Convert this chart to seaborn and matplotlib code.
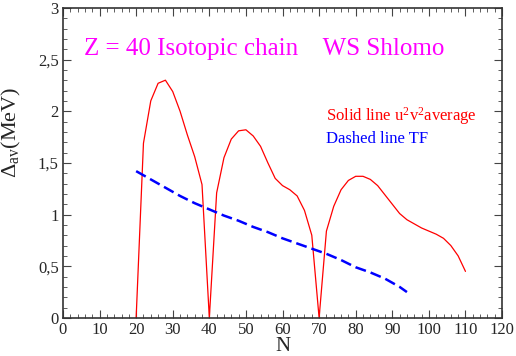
import numpy as np
import pandas as pd
import seaborn as sns
import matplotlib.pyplot as plt
from matplotlib.ticker import MultipleLocator, FuncFormatter

# solid line: u2v2 average
n_red = [20, 22, 24, 26, 28, 30, 32, 34, 36, 38, 40, 42, 44, 46, 48, 50, 52, 54,
         56, 58, 60, 62, 64, 66, 68, 70, 72, 74, 76, 78, 80, 82, 84, 86, 88, 90,
         92, 94, 96, 98, 100, 102, 104, 106, 108, 110]
d_red = [0.0, 1.69, 2.10, 2.27, 2.30, 2.19, 2.00, 1.77, 1.56, 1.29, 0.0, 1.21,
         1.55, 1.73, 1.81, 1.82, 1.76, 1.66, 1.50, 1.35, 1.28, 1.24, 1.18, 1.04,
         0.80, 0.0, 0.84, 1.08, 1.24, 1.33, 1.37, 1.37, 1.34, 1.28, 1.19, 1.10,
         1.01, 0.95, 0.91, 0.87, 0.84, 0.81, 0.77, 0.70, 0.60, 0.45]

# dashed line: TF
n_blue = [20, 24, 28, 32, 36, 40, 44, 48, 52, 56, 60, 64, 68, 72, 76, 80, 84, 88, 92, 94]
d_blue = [1.42, 1.34, 1.26, 1.18, 1.11, 1.05, 0.99, 0.94, 0.88, 0.83, 0.77, 0.72,
          0.67, 0.62, 0.56, 0.49, 0.44, 0.38, 0.30, 0.25]

sns.set_style("ticks")
plt.rcParams['font.family'] = ['Liberation Serif', 'DejaVu Serif']
plt.rcParams['mathtext.fontset'] = 'custom'
plt.rcParams['mathtext.rm'] = 'Liberation Serif'
plt.rcParams['mathtext.it'] = 'Liberation Serif'

fig = plt.figure(figsize=(5.16, 3.56), dpi=100)
ax = fig.add_axes([0.122, 0.107, 0.851, 0.871])

red = pd.DataFrame({"N": n_red, "D": d_red})
blue = pd.DataFrame({"N": n_blue, "D": d_blue})
sns.lineplot(data=red, x="N", y="D", color="#ff0000", lw=0.9, ax=ax)
sns.lineplot(data=blue, x="N", y="D", color="#0000ff", lw=1.8, ax=ax,
             dashes=False, linestyle=(0, (4.4, 2)))

ax.set_xlim(0, 120)
ax.set_ylim(0, 3)
ax.xaxis.set_major_locator(MultipleLocator(10))
ax.xaxis.set_minor_locator(MultipleLocator(2))
ax.yaxis.set_major_locator(MultipleLocator(0.5))
ax.yaxis.set_minor_locator(MultipleLocator(0.1))
ax.yaxis.set_major_formatter(FuncFormatter(lambda v, p: f"{v:g}".replace(".", ",")))
ax.tick_params(which="both", direction="in", top=True, right=True, labelsize=12,
               color="#444444", pad=3)
ax.tick_params(which="major", length=6)
ax.tick_params(which="minor", length=3)
for s in ax.spines.values():
    s.set_color("#333333")
    s.set_linewidth(1.2)

ax.set_xlabel("N", fontsize=15)
ax.xaxis.set_label_coords(0.5, -0.062)
ax.set_ylabel(r"$\Delta_{\mathrm{av}}$(MeV)", fontsize=16)
ax.yaxis.set_label_coords(-0.09, 0.6)

ax.text(0.048, 0.848, "Z = 40 Isotopic chain    WS Shlomo", transform=ax.transAxes,
        color="#ff00ff", fontsize=18, va="baseline")
ax.text(0.60, 0.635, r"Solid line u$^2$v$^2$average", transform=ax.transAxes,
        color="#ff0000", fontsize=12, va="baseline")
ax.text(0.60, 0.565, "Dashed line TF", transform=ax.transAxes,
        color="#0000ff", fontsize=12, va="baseline")

fig.savefig("out.png", dpi=100)
